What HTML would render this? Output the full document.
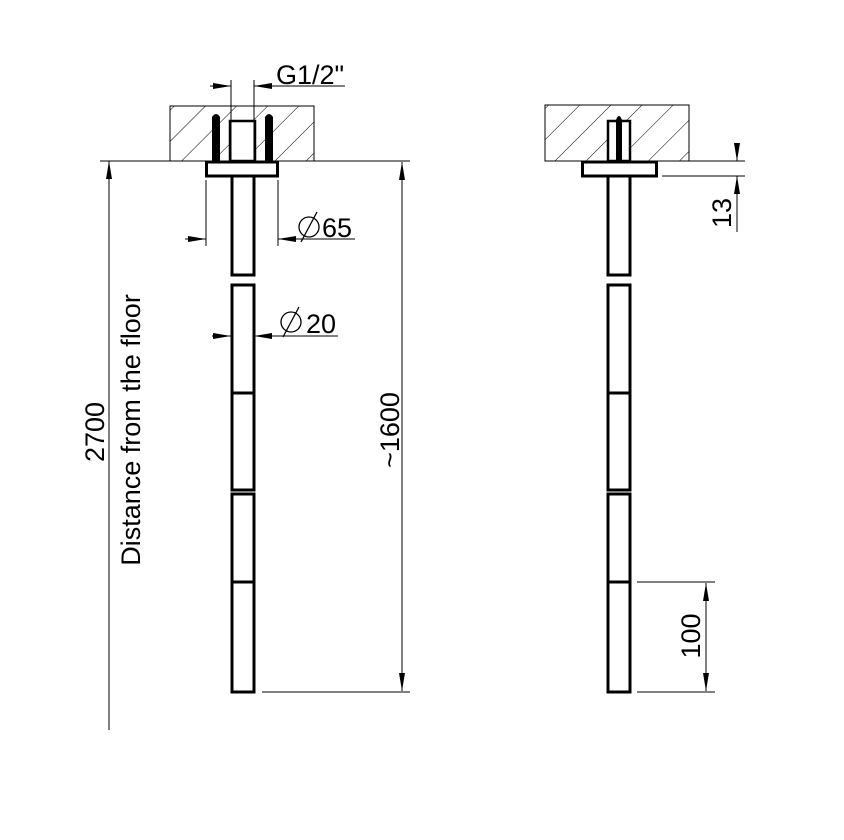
<!DOCTYPE html>
<html><head><meta charset="utf-8"><style>html,body{margin:0;padding:0;background:#fff}svg{display:block}</style></head>
<body>
<svg width="844" height="840" viewBox="0 0 844 840" xmlns="http://www.w3.org/2000/svg" font-family="Liberation Sans, Arial, sans-serif">
<defs>
<pattern id="h" patternUnits="userSpaceOnUse" width="22" height="22" patternTransform="rotate(45)">
<line x1="0" y1="0" x2="0" y2="22" stroke="#000" stroke-width="1"/>
</pattern>
<marker id="a" viewBox="0 0 18 6" refX="18" refY="3" markerWidth="18" markerHeight="6" markerUnits="userSpaceOnUse" orient="auto-start-reverse">
<path d="M0,0 L18,3 L0,6z" fill="#000"/>
</marker>
</defs>
<g stroke="#000" fill="none">
<!-- LEFT VIEW -->
<rect x="170" y="106" width="144" height="55" fill="url(#h)" stroke-width="1"/>
<line x1="100" y1="161" x2="410" y2="161" stroke-width="1"/>
<rect x="230" y="121" width="25" height="40" fill="#fff" stroke-width="2.5"/>
<path d="M212,161 L212,117 Q216,111 220,117 L220,161z" fill="#000" stroke="none"/>
<path d="M265,161 L265,117 Q269,111 273,117 L273,161z" fill="#000" stroke="none"/>
<rect x="206.5" y="162" width="71" height="14" fill="#fff" stroke-width="3"/>
<g stroke-width="3" fill="#fff">
<rect x="232" y="176" width="22" height="99"/>
<rect x="232" y="285" width="22" height="205"/>
<line x1="232" y1="393" x2="254" y2="393"/>
<rect x="232" y="494" width="22" height="198"/>
<line x1="232" y1="582" x2="254" y2="582"/>
</g>
<!-- G1/2 -->
<line x1="231" y1="80" x2="231" y2="160" stroke-width="1"/>
<line x1="254" y1="80" x2="254" y2="160" stroke-width="1"/>
<line x1="210" y1="86" x2="231" y2="86" stroke-width="1" marker-end="url(#a)"/>
<line x1="345" y1="86" x2="254" y2="86" stroke-width="1" marker-end="url(#a)"/>
<!-- Ø65 -->
<line x1="206" y1="180" x2="206" y2="246" stroke-width="1"/>
<line x1="278" y1="180" x2="278" y2="246" stroke-width="1"/>
<line x1="185" y1="239" x2="206" y2="239" stroke-width="1" marker-end="url(#a)"/>
<line x1="355" y1="239" x2="278" y2="239" stroke-width="1" marker-end="url(#a)"/>
<circle cx="309" cy="227" r="10" stroke-width="1.3"/><line x1="301" y1="242" x2="317" y2="212" stroke-width="1.3"/>
<!-- Ø20 -->
<line x1="212" y1="336" x2="231" y2="336" stroke-width="1" marker-end="url(#a)"/>
<line x1="338" y1="336" x2="254" y2="336" stroke-width="1" marker-end="url(#a)"/>
<circle cx="291" cy="322" r="10" stroke-width="1.3"/><line x1="283" y1="337" x2="299" y2="307" stroke-width="1.3"/>
<!-- 2700 -->
<line x1="109" y1="730" x2="109" y2="161" stroke-width="1" marker-end="url(#a)"/>
<!-- ~1600 -->
<line x1="262" y1="692" x2="410" y2="692" stroke-width="1"/>
<line x1="402" y1="200" x2="402" y2="162" stroke-width="1" marker-end="url(#a)"/>
<line x1="402" y1="200" x2="402" y2="691" stroke-width="1" marker-end="url(#a)"/>
<!-- RIGHT VIEW -->
<rect x="545" y="105" width="144" height="56" fill="url(#h)" stroke-width="1"/>
<line x1="545" y1="161" x2="745" y2="161" stroke-width="1"/>
<rect x="608" y="121" width="22" height="40" fill="#fff" stroke-width="2.5"/>
<path d="M616,161 L616,120 Q619,112 622,120 L622,161z" fill="#000" stroke="none"/>
<rect x="582.5" y="162" width="74" height="14" fill="#fff" stroke-width="3"/>
<line x1="662" y1="176" x2="745" y2="176" stroke-width="1"/>
<g stroke-width="3" fill="#fff">
<rect x="608" y="176" width="22" height="99"/>
<rect x="608" y="285" width="22" height="205"/>
<line x1="608" y1="393" x2="630" y2="393"/>
<rect x="608" y="494" width="22" height="198"/>
<line x1="608" y1="582" x2="630" y2="582"/>
</g>
<!-- 13 -->
<line x1="737" y1="143" x2="737" y2="161" stroke-width="1" marker-end="url(#a)"/>
<line x1="737" y1="232" x2="737" y2="176" stroke-width="1" marker-end="url(#a)"/>
<!-- 100 -->
<line x1="637" y1="582" x2="715" y2="582" stroke-width="1"/>
<line x1="637" y1="692" x2="715" y2="692" stroke-width="1"/>
<line x1="706" y1="630" x2="706" y2="583" stroke-width="1" marker-end="url(#a)"/>
<line x1="706" y1="630" x2="706" y2="691" stroke-width="1" marker-end="url(#a)"/>
</g>
<g fill="#000" font-size="27">
<text x="276" y="84">G1/2"</text>
<text x="322" y="237">65</text>
<text x="306" y="333">20</text>
<text transform="translate(104,432) rotate(-90)" text-anchor="middle">2700</text>
<text transform="translate(140,430) rotate(-90)" text-anchor="middle">Distance from the floor</text>
<text transform="translate(399,430) rotate(-90)" text-anchor="middle">~1600</text>
<text transform="translate(731,213) rotate(-90)" text-anchor="middle">13</text>
<text transform="translate(700,636) rotate(-90)" text-anchor="middle">100</text>
</g>
</svg>
</body></html>
